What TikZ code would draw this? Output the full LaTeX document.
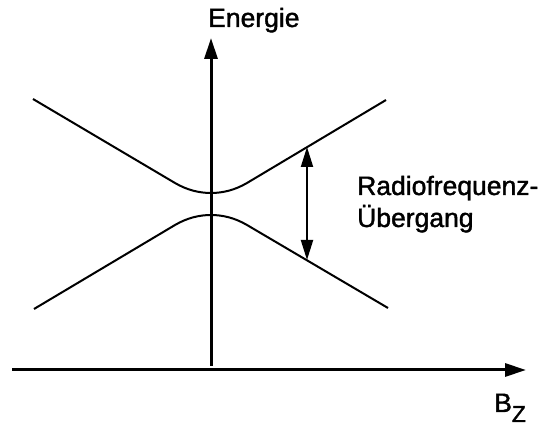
\documentclass[tikz,border=0pt]{standalone}
\usepackage{fontspec}
\setmainfont{Liberation Sans}
\newfontfamily\lblfont[FakeBold=1.5]{Liberation Sans}
\usetikzlibrary{arrows.meta}

\begin{document}
\begin{tikzpicture}[x=1pt, y=1pt,
  every node/.style={font=\lblfont\fontsize{26.5}{30}\selectfont, inner sep=0pt},
  axis/.style={line width=3pt, -{Triangle[length=21pt,width=13pt]}},
  level/.style={line width=2pt},
  trans/.style={line width=2pt, {Triangle[length=20pt,width=12pt]}-{Triangle[length=20pt,width=12pt]}}]
\useasboundingbox (0,0) rectangle (560,426);
% axes
\coordinate (o) at (211,60);
\coordinate (top) at (211,388);
\draw[axis] (o) -- (top);
\node[anchor=base west] (en) at (208,399) {Energie};
\coordinate (left) at (12,56);
\coordinate (right) at (526,56);
\draw[axis] (left) -- (right);
\node[anchor=base west] (bz) at (494,14) {B\raisebox{-10pt}{\fontsize{23}{26}\selectfont Z}};
% upper level
\coordinate (u1) at (33,327);
\coordinate (u2) at (175,243);
\coordinate (u3) at (211,233);
\coordinate (u4) at (247,243);
\coordinate (u5) at (386,326);
\draw[level] (u1) -- (u2) .. controls (187,236) and (199,233) .. (u3)
  .. controls (223,233) and (235,236) .. (u4) -- (u5);
% lower level
\coordinate (l1) at (34,117);
\coordinate (l2) at (175,201);
\coordinate (l3) at (211,211);
\coordinate (l4) at (247,201);
\coordinate (l5) at (388,118);
\draw[level] (l1) -- (l2) .. controls (187,208) and (199,211) .. (l3)
  .. controls (223,211) and (235,208) .. (l4) -- (l5);
% transition
\coordinate (a) at (307,279);
\coordinate (b) at (307,166);
\draw[trans] (a) -- (b);
\node[anchor=base west] (rf) at (357,231) {Radiofrequenz-};
\node[anchor=base west] (ue) at (357,199) {Übergang};
\end{tikzpicture}
\end{document}
